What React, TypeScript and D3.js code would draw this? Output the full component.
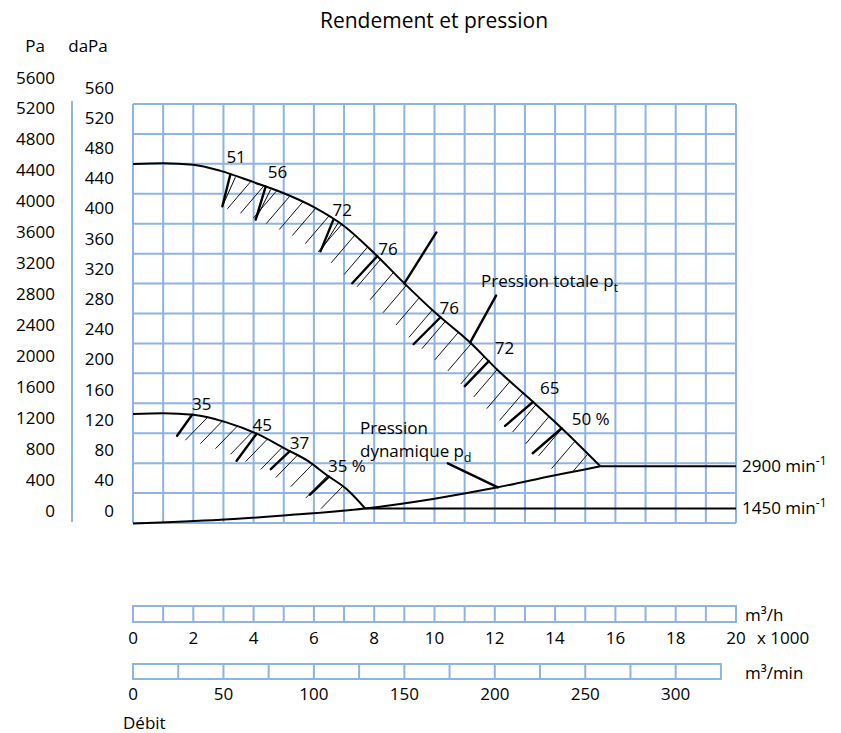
import React from 'react';
import * as d3 from 'd3';

// ---------- DATA ----------
// flow in 1000 m³/h, pressure in daPa
const flowTotal2900 = [0, 1, 2, 2.9, 4, 4.9, 6, 7, 8, 9, 10, 11.2, 12.1, 13.3, 14.2, 15.5];
const pressTotal2900 = [458, 459, 457, 449, 434, 421, 401, 376, 340, 300, 262, 221, 185, 142, 109, 58];
const flowTotal1450 = [0, 1, 2, 3.1, 4.1, 5.1, 5.8, 6.4, 7.1, 7.7];
const pressTotal1450 = [127, 128, 126, 116, 101, 80, 65, 47, 27, 2];
const flowDyn = [0, 2.9, 5.1, 7.7, 10, 12.1, 14, 14.9, 15.5];
const pressDyn = [-18, -13, -7, 2, 15, 30, 46, 53, 58];

const speedLabels = ['2900', '1450'];
const speedStartFlow = [15.5, 7.7];
const speedPressure = [58, 2];

const effHighFlow = [3.23, 4.4, 6.65, 8.1, 10.2, 11.8, 13.27, 14.22];
const effHighLabels = ['51', '56', '72', '76', '76', '72', '65', '50 %'];
const effLowFlow = [1.96, 4.1, 5.2, 6.5];
const effLowLabels = ['35', '45', '37', '35 %'];

const paTicks = [0, 400, 800, 1200, 1600, 2000, 2400, 2800, 3200, 3600, 4000, 4400, 4800, 5200, 5600];
const daPaTicks = [0, 40, 80, 120, 160, 200, 240, 280, 320, 360, 400, 440, 480, 520, 560];
const m3hTicks = [0, 2, 4, 6, 8, 10, 12, 14, 16, 18, 20];
const m3minTicks = [0, 50, 100, 150, 200, 250, 300];

// ---------- LAYOUT / STYLE ----------
const W = 841, H = 733;
const FONT = "'Open Sans', 'Noto Sans', sans-serif";
const BLUE = '#8db4e2';
const FS = 17;

const x = d3.scaleLinear().domain([0, 20]).range([133, 736]);
const y = d3.scaleLinear().domain([0, 560]).range([510, 87]);
const yPa = d3.scaleLinear().domain([0, 5600]).range([510, 77]);
const gridRow = d3.scaleLinear().domain([0, 14]).range([523, 104]);
const xMin = d3.scaleLinear().domain([0, 20000 / 60]).range([133, 736]);

const line = d3.line<[number, number]>().x(d => x(d[0])).y(d => y(d[1])).curve(d3.curveMonotoneX);
const zip = (a: number[], b: number[]) => a.map((v, i) => [v, b[i]] as [number, number]);

const interpHigh = d3.scaleLinear().domain(flowTotal2900).range(pressTotal2900);
const interpLow = d3.scaleLinear().domain(flowTotal1450).range(pressTotal1450);
const interpDyn = d3.scaleLinear().domain(flowDyn).range(pressDyn);

const ptHigh = (q: number) => [x(q), y(interpHigh(q))];
const ptLow = (q: number) => [x(q), y(interpLow(q))];
const ptDyn = (q: number) => [x(q), y(interpDyn(q))];

// mark shapes (styling)
const highMarkVec = [[-8, 32], [-10, 33], [-13, 32], [-25, 27], [-27, 27], [-24, 25], [-28, 24], [-29, 25]];
const highLabelOff = [[-4, -11], [2, -9], [-1, -3], [1, -1], [-1, -3], [6, -7], [7, -8], [10, -3]];
const lowMarkVec = [[-15, 21], [-20, 27], [-19, 18], [-19, 18]];
const lowLabelOff = [[0, -5], [-4, -3], [0, -2], [-1, -5]];

export default function App() {
  const highPath = line(zip(flowTotal2900, pressTotal2900))!;
  const lowPath = line(zip(flowTotal1450, pressTotal1450))!;
  const dynPath = line(zip(flowDyn, pressDyn))!;

  // clip regions for hatching
  const dynPts = zip(flowDyn, pressDyn).map(d => `${x(d[0])},${y(d[1])}`);
  const highPts = zip(flowTotal2900, pressTotal2900).map(d => `${x(d[0])},${y(d[1]) - 1}`);
  const highClip = [...highPts, ...dynPts.slice().reverse()].join(' ');
  const lowPts = zip(flowTotal1450, pressTotal1450).map(d => `${x(d[0])},${y(d[1]) - 1}`);
  const lowClip = [...lowPts, `${x(7.7)},${y(-20)}`, `${x(0)},${y(-20)}`].join(' ');

  const hatchHigh = d3.range(3.9, 15.45, 0.43);
  const hatchLow = d3.range(2.45, 7.1, 0.5);
  const angH = (50 * Math.PI) / 180;
  const angL = (46 * Math.PI) / 180;

  const gridCols = d3.range(0, 21);
  const gridRows = d3.range(0, 15);

  const a = ptHigh(9.0), b = ptHigh(11.18), c = ptDyn(12.1);

  return (
    <svg width={W} height={H} style={{ position: 'absolute', left: 0, top: 0, background: '#fff' }}
      fontFamily={FONT} fontSize={FS}>
      <defs>
        <clipPath id="clipHigh"><polygon points={highClip} /></clipPath>
        <clipPath id="clipLow"><polygon points={lowClip} /></clipPath>
      </defs>
      <rect width={W} height={H} fill="#fff" />
      {/* title */}
      <text x={434} y={20} textAnchor="middle" dominantBaseline="central" fontSize={21}>Rendement et pression</text>
      <text x={35} y={45} textAnchor="middle" dominantBaseline="central">Pa</text>
      <text x={88} y={45} textAnchor="middle" dominantBaseline="central">daPa</text>

      {/* axis labels */}
      {paTicks.map(v => (
        <text key={'pa' + v} x={55} y={yPa(v)} textAnchor="end" dominantBaseline="central">{v}</text>
      ))}
      {daPaTicks.map(v => (
        <text key={'da' + v} x={114} y={y(v)} textAnchor="end" dominantBaseline="central">{v}</text>
      ))}
      <line x1={72} x2={72} y1={101} y2={522} stroke={BLUE} strokeWidth={2} />

      {/* grid */}
      {gridCols.map(col => (
        <line key={'gc' + col} x1={x(col)} x2={x(col)} y1={gridRow(14)} y2={gridRow(0)} stroke={BLUE} strokeWidth={2} />
      ))}
      {gridRows.map(r => (
        <line key={'gr' + r} x1={x(0)} x2={x(20)} y1={gridRow(r)} y2={gridRow(r)} stroke={BLUE} strokeWidth={2} />
      ))}

      {/* hatching */}
      <g clipPath="url(#clipHigh)" stroke="#111" strokeWidth={1}>
        {hatchHigh.map((q, i) => {
          const [px, py] = ptHigh(q);
          const L = 36;
          return <line key={'hh' + i} x1={px + 3} x2={px - L * Math.cos(angH)} y1={py - 3} y2={py + L * Math.sin(angH)} />;
        })}
      </g>
      <g clipPath="url(#clipLow)" stroke="#111" strokeWidth={1}>
        {hatchLow.map((q, i) => {
          const [px, py] = ptLow(q);
          const L = 31;
          return <line key={'hl' + i} x1={px + 3} x2={px - L * Math.cos(angL)} y1={py - 3} y2={py + L * Math.sin(angL)} />;
        })}
      </g>

      {/* curves */}
      <g fill="none" stroke="#000" strokeWidth={2}>
        <path d={highPath} />
        <path d={lowPath} />
        <path d={dynPath} />
        {speedLabels.map((s, i) => (
          <line key={'sl' + s} x1={x(speedStartFlow[i])} x2={x(20)} y1={y(speedPressure[i])} y2={y(speedPressure[i])} />
        ))}
      </g>

      {/* efficiency marks */}
      <g stroke="#000" strokeWidth={2.4} strokeLinecap="round">
        {effHighFlow.map((q, i) => {
          const [px, py] = ptHigh(q);
          return <line key={'eh' + i} x1={px} y1={py} x2={px + highMarkVec[i][0]} y2={py + highMarkVec[i][1]} />;
        })}
        {effLowFlow.map((q, i) => {
          const [px, py] = ptLow(q);
          return <line key={'el' + i} x1={px} y1={py} x2={px + lowMarkVec[i][0]} y2={py + lowMarkVec[i][1]} />;
        })}
        {/* pointers */}
        <line x1={a[0]} y1={a[1]} x2={a[0] + 32} y2={a[1] - 51} />
        <line x1={b[0]} y1={b[1]} x2={b[0] + 26} y2={b[1] - 47} />
        <line x1={c[0]} y1={c[1]} x2={c[0] - 50} y2={c[1] - 24} />
      </g>
      {/* thin companions of the steep marks (V shapes) */}
      <g stroke="#000" strokeWidth={1}>
        {effHighFlow.slice(0, 3).map((q, i) => {
          const [px, py] = ptHigh(q);
          return <line key={'ev' + i} x1={px + highMarkVec[i][0]} y1={py + highMarkVec[i][1]} x2={px + 5} y2={py + 3} />;
        })}
      </g>

      {/* efficiency labels */}
      {effHighFlow.map((q, i) => {
        const [px, py] = ptHigh(q);
        return <text key={'th' + i} x={px + highLabelOff[i][0]} y={py + highLabelOff[i][1]}>{effHighLabels[i]}</text>;
      })}
      {effLowFlow.map((q, i) => {
        const [px, py] = ptLow(q);
        return <text key={'tl' + i} x={px + lowLabelOff[i][0]} y={py + lowLabelOff[i][1]}>{effLowLabels[i]}</text>;
      })}

      <text x={481} y={287}>Pression totale p<tspan dy={5} fontSize={12}>t</tspan></text>
      <text x={360} y={434}>Pression</text>
      <text x={360} y={457}>dynamique p<tspan dy={5} fontSize={12}>d</tspan></text>

      {speedLabels.map((s, i) => (
        <text key={'st' + s} x={742} y={y(speedPressure[i]) + 6}>{s} min<tspan dy={-7} fontSize={12}>-1</tspan></text>
      ))}

      {/* m³/h scale */}
      <rect x={x(0)} y={606} width={x(20) - x(0)} height={16} fill="none" stroke={BLUE} strokeWidth={2} />
      {gridCols.slice(1, 20).map(col => (
        <line key={'bh' + col} x1={x(col)} x2={x(col)} y1={606} y2={622} stroke={BLUE} strokeWidth={2} />
      ))}
      {m3hTicks.map(v => (
        <text key={'tk' + v} x={x(v)} y={637} textAnchor="middle" dominantBaseline="central">{v}</text>
      ))}
      <text x={745} y={614} dominantBaseline="central">m³/h</text>
      <text x={757} y={637} dominantBaseline="central">x 1000</text>

      {/* m³/min scale */}
      <rect x={xMin(0)} y={664} width={xMin(325) - xMin(0)} height={15} fill="none" stroke={BLUE} strokeWidth={2} />
      {d3.range(25, 325, 25).map(v => (
        <line key={'bm' + v} x1={xMin(v)} x2={xMin(v)} y1={664} y2={679} stroke={BLUE} strokeWidth={2} />
      ))}
      {m3minTicks.map(v => (
        <text key={'tm' + v} x={xMin(v)} y={693} textAnchor="middle" dominantBaseline="central">{v}</text>
      ))}
      <text x={745} y={672} dominantBaseline="central">m³/min</text>
      <text x={123} y={722} dominantBaseline="central">Débit</text>
    </svg>
  );
}
